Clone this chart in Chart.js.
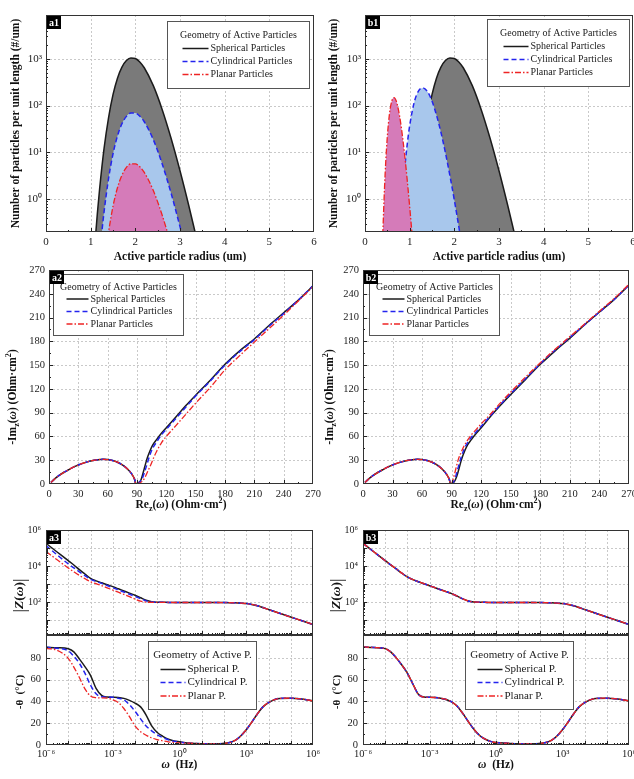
<!DOCTYPE html>
<html>
<head>
<meta charset="utf-8">
<script src="https://cdn.jsdelivr.net/npm/chart.js@4.4.1/dist/chart.umd.min.js"></script>
<style>
  html, body { margin: 0; padding: 0; background: #fff; }
  body { width: 634px; height: 779px; overflow: hidden; position: relative; }
  canvas { position: absolute; }
</style>
</head>
<body>
<canvas id="a1" width="340" height="262" style="left:0px;top:0px"></canvas>
<canvas id="b1" width="340" height="262" style="left:317px;top:0px"></canvas>
<canvas id="a2" width="340" height="250" style="left:0px;top:262px"></canvas>
<canvas id="b2" width="340" height="250" style="left:317px;top:262px"></canvas>
<canvas id="a3z" width="340" height="121" style="left:0px;top:515px"></canvas>
<canvas id="a3t" width="340" height="145" style="left:0px;top:634px"></canvas>
<canvas id="b3z" width="340" height="121" style="left:317px;top:515px"></canvas>
<canvas id="b3t" width="340" height="145" style="left:317px;top:634px"></canvas>
<script>
// ---- particle size distributions (a1 / b1) ----
const radiusSphA = [1.10, 1.15, 1.2, 1.3, 1.4, 1.5, 1.6, 1.7, 1.8, 1.9, 2.0, 2.1, 2.2, 2.4, 2.6, 2.8, 3.0, 3.2, 3.35];
const countSphA = [0.126, 0.50, 1.66, 12.2, 55, 171, 385, 662, 914, 1042, 1012, 857, 643, 270, 83, 20.1, 4.06, 0.71, 0.177];
const radiusCylA = [1.22, 1.25, 1.3, 1.4, 1.5, 1.6, 1.7, 1.8, 1.9, 2.0, 2.1, 2.2, 2.4, 2.6, 2.8, 3.0, 3.05];
const countCylA = [0.105, 0.20, 0.54, 2.75, 9.3, 22.4, 40.9, 58.9, 69.5, 69.2, 59.6, 45.2, 19.0, 5.75, 1.35, 0.26, 0.169];
const radiusPlaA = [1.38, 1.4, 1.5, 1.6, 1.7, 1.8, 1.9, 2.0, 2.1, 2.2, 2.4, 2.6, 2.74];
const countPlaA = [0.15, 0.20, 0.71, 1.76, 3.27, 4.79, 5.71, 5.72, 4.94, 3.74, 1.56, 0.46, 0.17];

const radiusSphB = [1.10, 1.15, 1.2, 1.3, 1.4, 1.5, 1.6, 1.7, 1.8, 1.9, 2.0, 2.1, 2.2, 2.4, 2.6, 2.8, 3.0, 3.2, 3.35];
const countSphB = [0.126, 0.50, 1.66, 12.2, 55, 171, 385, 662, 914, 1042, 1012, 857, 643, 270, 83, 20.1, 4.06, 0.71, 0.177];
const radiusCylB = [0.78, 0.8, 0.85, 0.9, 0.95, 1.0, 1.1, 1.2, 1.3, 1.4, 1.5, 1.6, 1.7, 1.8, 1.9, 2.0, 2.1, 2.14];
const countCylB = [0.17, 0.34, 1.62, 5.8, 16.3, 37.3, 116, 206, 239, 198, 125, 63, 26.9, 9.9, 3.24, 0.96, 0.26, 0.15];
const radiusPlaB = [0.39, 0.4, 0.45, 0.5, 0.55, 0.6, 0.65, 0.7, 0.75, 0.8, 0.85, 0.9, 0.95, 1.0, 1.05, 1.06];
const countPlaB = [0.098, 0.198, 3.38, 21.9, 69, 125, 148, 125, 80.5, 41.8, 18.2, 6.9, 2.30, 0.70, 0.195, 0.15];

// ---- Nyquist plots (a2 / b2) ----
const reArc = [2, 5, 10, 15, 20, 25, 30, 35, 40, 45, 50, 55, 60, 65, 70, 75, 80, 83, 85, 87, 88, 88.5];
const imArc = [2, 5.5, 10.5, 14.5, 18, 21.3, 24, 26.3, 28.2, 29.7, 30.7, 31.1, 30.8, 29.6, 27.5, 24.2, 19.3, 15.3, 12, 7.5, 4, 0.5];

const reSphA = [90, 92, 94, 96, 98, 100, 103, 106, 110, 115, 120, 130, 140, 150, 165, 180, 195, 210, 225, 240, 255, 270];
const imSphA = [0.5, 2, 5, 13, 22, 31, 41, 49, 56, 64, 71, 85, 99, 112, 131, 151, 168, 183, 200, 216, 232, 250];
const reCylA = [90, 92, 95, 98, 100, 103, 106, 110, 115, 120, 130, 140, 150, 165, 180, 195, 210, 225, 240, 255, 270];
const imCylA = [0.5, 1.5, 6, 16, 24, 36, 45, 53, 62, 69, 83, 97, 111, 130, 150, 167, 182, 199, 215, 232, 250];
const rePlaA = [90, 92, 95, 98, 101, 104, 107, 110, 115, 120, 130, 140, 150, 165, 180, 195, 210, 225, 240, 255, 270];
const imPlaA = [0.3, 1, 3, 8, 16, 24, 33, 41, 52, 60, 74, 88, 102, 122, 144, 162, 179, 196, 213, 231, 249];

const reSphB = [90, 92, 94, 96, 98, 100, 103, 106, 110, 115, 120, 130, 140, 150, 165, 180, 195, 210, 225, 240, 255, 270];
const imSphB = [0.5, 2, 6, 13, 22, 31, 41, 49, 56, 64, 71, 86, 100, 113, 132, 151, 168, 184, 201, 217, 233, 251];
const reCylB = [90, 92, 94, 96, 98, 100, 103, 106, 110, 115, 120, 130, 140, 150, 165, 180, 195, 210, 225, 240, 255, 270];
const imCylB = [0.5, 3, 9, 18, 27, 35, 45, 52, 59, 66, 73, 87, 101, 114, 133, 152, 169, 185, 201, 217, 233, 251];
const rePlaB = [90, 91, 93, 95, 97, 100, 103, 106, 110, 115, 120, 130, 140, 150, 165, 180, 195, 210, 225, 240, 255, 270];
const imPlaB = [0.5, 4, 13, 23, 32, 41, 49, 55, 62, 69, 76, 89, 103, 116, 135, 153, 170, 186, 202, 218, 234, 252];

// ---- Bode plots (a3 / b3) ----
const freqHz = [1e-6, 3.16e-6, 1e-5, 1.78e-5, 3.16e-5, 5.62e-5, 1e-4, 1.78e-4, 3.16e-4, 5.62e-4,
  1e-3, 1.78e-3, 3.16e-3, 5.62e-3, 1e-2, 1.78e-2, 3.16e-2, 5.62e-2, 0.1, 0.178, 0.316, 0.562,
  1, 3.16, 10, 31.6, 100, 178, 316, 562, 1e3, 1.78e3, 3.16e3, 5.62e3, 1e4, 3.16e4, 1e5, 3.16e5, 1e6];

const zSphA = [182000, 60300, 19950, 11500, 6310, 3630, 2090, 1510, 1175, 912, 724, 550, 417, 316, 240, 174, 126, 105, 98.9, 97.7, 96.6,
  95.5, 95.5, 95.5, 95.5, 95.5, 94.4, 93.3, 91.2, 88.1, 83.2, 74.1, 63.1, 50.1, 38.9, 24.0, 14.8, 9.33, 5.75];
const zCylA = [134900, 41700, 13200, 7940, 4790, 2950, 1860, 1410, 1100, 832, 631, 479, 363, 275, 209, 155, 117, 102, 97.7, 97.7, 96.6,
  95.5, 95.5, 95.5, 95.5, 95.5, 94.4, 93.3, 91.2, 88.1, 83.2, 74.1, 63.1, 50.1, 38.9, 24.0, 14.8, 9.33, 5.75];
const zPlaA = [63100, 22400, 7760, 4790, 3020, 2000, 1350, 1050, 813, 617, 468, 355, 269, 200, 148, 112, 100, 97.7, 97.7, 97.7, 96.6,
  95.5, 95.5, 95.5, 95.5, 95.5, 94.4, 93.3, 91.2, 88.1, 83.2, 74.1, 63.1, 50.1, 38.9, 24.0, 14.8, 9.33, 5.75];
const zAllB = [182000, 60300, 19950, 11750, 6920, 4070, 2510, 1780, 1350, 1050, 813, 631, 490, 380, 295, 214, 151, 115, 102, 98.9, 97.7,
  95.5, 95.5, 95.5, 95.5, 95.5, 94.4, 93.3, 91.2, 88.1, 83.2, 74.1, 63.1, 50.1, 38.9, 24.0, 14.8, 9.33, 5.75];

const phaseSphA = [89.7, 89.3, 88.3, 85.5, 79, 72, 64, 52, 45.5, 44, 43.8, 43.6, 42.8, 41, 38.5, 35, 27.5, 17.5, 11.5, 8.0, 5.3, 3.8, 3.0,
  1.6, 1.1, 1.0, 1.4, 2.3, 4.2, 8.3, 14, 21, 28.5, 35, 39, 42.8, 43, 42.2, 40.5];
const phaseCylA = [89.7, 88.8, 86.5, 81.5, 75, 66, 55, 47, 44.2, 44, 43.8, 43, 41.5, 37, 31, 24, 17.5, 13, 9.3, 6.8, 4.8, 3.4, 2.6,
  1.6, 1.1, 1.0, 1.4, 2.3, 4.2, 8.3, 14, 21, 28.5, 35, 39, 42.8, 43, 42.2, 40.5];
const phasePlaA = [88.7, 87, 79.6, 71.5, 62, 51.5, 45, 43.4, 43.2, 43, 41.5, 39, 33.5, 26, 17.5, 12.2, 9, 6.5, 5, 3.8, 2.9, 2.3, 1.9,
  1.6, 1.1, 1.0, 1.4, 2.3, 4.2, 8.3, 14, 21, 28.5, 35, 39, 42.8, 43, 42.2, 40.5];
const phaseAllB = [90, 89.5, 88.5, 85.5, 80, 73.5, 66, 56, 46.5, 44, 43.8, 43.6, 43, 41.8, 39.5, 35.5, 29, 21.5, 14.5, 9, 5.5, 3.3, 2.2,
  1.6, 1.1, 1.0, 1.4, 2.3, 4.2, 8.3, 14, 21, 28.5, 35, 39, 42.8, 43, 42.2, 40.5];

// ---- labels ----
const namesLong = ['Spherical Particles', 'Cylindrical Particles', 'Planar Particles'];
const namesShort = ['Spherical P.', 'Cylindrical P.', 'Planar P.'];
const radiusTicks = [0, 1, 2, 3, 4, 5, 6];
const countTicks = [1, 10, 100, 1000];
const nyquistTicks = [0, 30, 60, 90, 120, 150, 180, 210, 240, 270];
const freqTicks = [1e-6, 1e-5, 1e-4, 1e-3, 1e-2, 1e-1, 1, 10, 100, 1e3, 1e4, 1e5, 1e6];
const zTicks = [10, 100, 1e3, 1e4, 1e5, 1e6];
const phaseTicks = [0, 20, 40, 60, 80];

const SERIF = "'Liberation Serif', 'Times New Roman', serif";
const STYLE_SPH = { color: '#1b1b1b', width: 1.5, dash: [] };
const STYLE_CYL = { color: '#2424ee', width: 1.5, dash: [5, 3] };
const STYLE_PLA = { color: '#ee2424', width: 1.3, dash: [6, 2, 1.5, 2] };
const LINE_STYLES = [STYLE_SPH, STYLE_CYL, STYLE_PLA];

const SUP = { '-': '\u207B', '0': '\u2070', '1': '\u00B9', '2': '\u00B2', '3': '\u00B3', '4': '\u2074', '5': '\u2075', '6': '\u2076', '7': '\u2077', '8': '\u2078', '9': '\u2079' };
const pow10Label = (v) => '10' + String(Math.round(Math.log10(v))).split('').map(c => SUP[c]).join('');

// minor tick positions of a log axis (2..9 in every decade)
function logMinor(min, max) {
  const out = [];
  for (let e = Math.floor(Math.log10(min)); e <= Math.ceil(Math.log10(max)); e++) {
    for (let k = 2; k <= 9; k++) {
      const v = k * Math.pow(10, e);
      if (v > min && v < max) out.push(v);
    }
  }
  return out;
}

// ---- rich text (sub / superscripts in axis titles) ----
const TEXT_STYLES = {
  b: { weight: 'bold', italic: false, scale: 1, shift: 0 },
  bi: { weight: 'bold', italic: true, scale: 1, shift: 0 },
  sub: { weight: 'bold', italic: false, scale: 0.7, shift: 0.3 },
  sup: { weight: 'bold', italic: false, scale: 0.7, shift: -0.35 },
  bar: { weight: 'normal', italic: false, scale: 1.3, shift: 0 }
};
const fontOf = (st, size) => (st.italic ? 'italic ' : '') + st.weight + ' ' + (size * st.scale) + 'px ' + SERIF;

function drawRich(ctx, parts, x, y, size, vertical) {
  ctx.save();
  ctx.translate(x, y);
  if (vertical) ctx.rotate(-Math.PI / 2);
  let total = 0;
  parts.forEach(([t, k]) => { ctx.font = fontOf(TEXT_STYLES[k], size); total += ctx.measureText(t).width; });
  let cx = -total / 2;
  ctx.textBaseline = 'middle';
  ctx.textAlign = 'left';
  ctx.fillStyle = '#111';
  parts.forEach(([t, k]) => {
    const st = TEXT_STYLES[k];
    ctx.font = fontOf(st, size);
    ctx.fillText(t, cx, st.shift * size);
    cx += ctx.measureText(t).width;
  });
  ctx.restore();
}

const titleRe = [['Re', 'b'], ['z', 'sub'], ['(', 'b'], ['\u03C9', 'bi'], [') (Ohm\u00B7cm', 'b'], ['2', 'sup'], [')', 'b']];
const titleIm = [['-Im', 'b'], ['z', 'sub'], ['(', 'b'], ['\u03C9', 'bi'], [') (Ohm\u00B7cm', 'b'], ['2', 'sup'], [')', 'b']];
const titleZ = [['|', 'bar'], ['Z', 'bi'], ['(', 'b'], ['\u03C9', 'bi'], [')', 'b'], ['|', 'bar']];
const titlePhase = [['-\u03B8  (\u00B0C)', 'b']];
const titleFreq = [['\u03C9', 'bi'], ['  (Hz)', 'b']];
const titleRadius = [['Active particle radius (um)', 'b']];
const titleCount = [['Number of particles per unit length (#/um)', 'b']];

// ---- legend drawn inside the plot area ----
function drawLegend(ctx, a, lg) {
  const x0 = Math.round(a.left + lg.dx) + 0.5;
  const y0 = Math.round(a.top + lg.dy) + 0.5;
  ctx.save();
  ctx.fillStyle = '#fff';
  ctx.fillRect(x0, y0, lg.w, lg.h);
  ctx.strokeStyle = '#555';
  ctx.lineWidth = 1;
  ctx.setLineDash([]);
  ctx.strokeRect(x0, y0, lg.w, lg.h);
  ctx.fillStyle = '#222';
  ctx.font = lg.font + 'px ' + SERIF;
  ctx.textBaseline = 'middle';
  ctx.textAlign = 'center';
  ctx.fillText(lg.title, x0 + lg.w / 2, y0 + lg.titleY);
  ctx.textAlign = 'left';
  lg.names.forEach((name, i) => {
    const st = LINE_STYLES[i];
    const yy = y0 + lg.rowY[i];
    ctx.strokeStyle = st.color;
    ctx.lineWidth = st.width;
    ctx.setLineDash(st.dash);
    ctx.beginPath();
    ctx.moveTo(x0 + lg.sx, yy);
    ctx.lineTo(x0 + lg.sx + lg.sw, yy);
    ctx.stroke();
    ctx.fillText(name, x0 + lg.sx + lg.sw + 2, yy);
  });
  ctx.restore();
}

// grid, frame, inward ticks, legend, panel tag and axis titles
function panelPlugin(p) {
  return {
    id: 'panel',
    beforeDatasetsDraw(chart) {
      const { ctx, chartArea: a, scales: { x, y } } = chart;
      ctx.save();
      ctx.strokeStyle = '#c9c9c9';
      ctx.lineWidth = 1;
      ctx.setLineDash([2, 2]);
      ctx.beginPath();
      p.gridX.forEach(v => { const px = Math.round(x.getPixelForValue(v)) + 0.5; ctx.moveTo(px, a.top); ctx.lineTo(px, a.bottom); });
      p.gridY.forEach(v => { const py = Math.round(y.getPixelForValue(v)) + 0.5; ctx.moveTo(a.left, py); ctx.lineTo(a.right, py); });
      ctx.stroke();
      ctx.restore();
    },
    afterDatasetsDraw(chart) {
      const { ctx, chartArea: a, scales: { x, y } } = chart;
      ctx.save();
      ctx.strokeStyle = '#222';
      ctx.lineWidth = 1;
      ctx.setLineDash([]);
      ctx.beginPath();
      const tickX = (vals, len) => vals.forEach(v => { const px = Math.round(x.getPixelForValue(v)) + 0.5; ctx.moveTo(px, a.bottom); ctx.lineTo(px, a.bottom - len); });
      const tickY = (vals, len) => vals.forEach(v => { const py = Math.round(y.getPixelForValue(v)) + 0.5; ctx.moveTo(a.left, py); ctx.lineTo(a.left + len, py); });
      tickX(p.majorX, 4); tickX(p.minorX, 2);
      tickY(p.majorY, 4); tickY(p.minorY, 2);
      ctx.stroke();
      ctx.strokeStyle = '#333';
      ctx.strokeRect(a.left + 0.5, a.top + 0.5, a.right - a.left - 1, a.bottom - a.top - 1);
      ctx.restore();
      if (p.legend) drawLegend(ctx, a, p.legend);
      if (p.tag) {
        ctx.save();
        ctx.fillStyle = '#000';
        ctx.fillRect(a.left + 1, a.top + 1, 14, 13);
        ctx.fillStyle = '#fff';
        ctx.font = 'bold 10px ' + SERIF;
        ctx.textAlign = 'center';
        ctx.textBaseline = 'middle';
        ctx.fillText(p.tag, a.left + 8, a.top + 8);
        ctx.restore();
      }
    },
    afterDraw(chart) {
      const { ctx, chartArea: a } = chart;
      if (p.xTitle) drawRich(ctx, p.xTitle, (a.left + a.right) / 2, a.bottom + p.xTitleDy, 11.5, false);
      if (p.yTitle) drawRich(ctx, p.yTitle, a.left + p.yTitleDx, (a.top + a.bottom) / 2 + (p.yTitleShift || 0), p.yTitleSize || 11.5, true);
    }
  };
}

function axis(o) {
  return {
    type: o.type,
    min: o.min,
    max: o.max,
    grid: { display: false, drawTicks: false },
    border: { display: false },
    ticks: {
      display: o.labels !== false,
      autoSkip: false,
      maxRotation: 0,
      padding: o.pad,
      color: '#222',
      font: { family: SERIF, size: o.font || 11 },
      callback: o.label
    },
    afterBuildTicks: (s) => { s.ticks = o.ticks.map(v => ({ value: v })); },
    afterFit: (s) => {
      if (s.isHorizontal()) s.height = o.size; else s.width = o.size;
      s.paddingLeft = 0; s.paddingRight = 0; s.paddingTop = 0; s.paddingBottom = 0;
    }
  };
}

function series(xs, ys, style, order, fillColor) {
  return {
    data: xs.map((x, i) => ({ x: x, y: ys[i] })),
    borderColor: style.color,
    borderWidth: style.width,
    borderDash: style.dash,
    pointRadius: 0,
    cubicInterpolationMode: 'monotone',
    fill: fillColor ? 'start' : false,
    backgroundColor: fillColor || 'transparent',
    order: order
  };
}

function makePanel(id, datasets, scaleX, scaleY, padding, p) {
  return new Chart(document.getElementById(id).getContext('2d'), {
    type: 'line',
    data: { datasets: datasets },
    options: {
      responsive: false,
      animation: false,
      layout: { padding: padding },
      plugins: { legend: { display: false }, tooltip: { enabled: false } },
      scales: { x: axis(scaleX), y: axis(scaleY) }
    },
    plugins: [panelPlugin(p)]
  });
}

// ---- row 1: distributions ----
const distX = (size) => ({ type: 'linear', min: 0, max: 6, ticks: radiusTicks, pad: 4, size: size, label: v => String(v) });
const distY = (size) => ({ type: 'logarithmic', min: 0.2, max: 8600, ticks: countTicks, pad: 4, size: size, label: v => pow10Label(v) });
const distDeco = {
  gridX: [1, 2, 3, 4, 5], gridY: countTicks,
  majorX: [1, 2, 3, 4, 5], minorX: [0.5, 1.5, 2.5, 3.5, 4.5, 5.5],
  majorY: countTicks, minorY: logMinor(0.2, 8600),
  xTitle: titleRadius, xTitleDy: 25, yTitle: titleCount
};
const fillSph = '#7a7a7a', fillCyl = '#a8c7ec', fillPla = '#d57bb9';

makePanel('a1', [
  series(radiusSphA, countSphA, STYLE_SPH, 3, fillSph),
  series(radiusCylA, countCylA, STYLE_CYL, 2, fillCyl),
  series(radiusPlaA, countPlaA, STYLE_PLA, 1, fillPla)
], distX(30), distY(46), { left: 0, top: 15, right: 26, bottom: 0 }, Object.assign({}, distDeco, {
  tag: 'a1', yTitleDx: -30,
  legend: { dx: 121, dy: 6, w: 142, h: 67, titleY: 14, rowY: [27, 40, 53], sx: 15, sw: 26, font: 10, title: 'Geometry of Active Particles', names: namesLong }
}));

makePanel('b1', [
  series(radiusSphB, countSphB, STYLE_SPH, 3, fillSph),
  series(radiusCylB, countCylB, STYLE_CYL, 2, fillCyl),
  series(radiusPlaB, countPlaB, STYLE_PLA, 1, fillPla)
], distX(30), distY(48), { left: 0, top: 15, right: 24, bottom: 0 }, Object.assign({}, distDeco, {
  tag: 'b1', yTitleDx: -31,
  legend: { dx: 122, dy: 4, w: 142, h: 67, titleY: 14, rowY: [27, 40, 53], sx: 16, sw: 25, font: 10, title: 'Geometry of Active Particles', names: namesLong }
}));

// ---- row 2: Nyquist ----
const nyqX = { type: 'linear', min: 0, max: 270, ticks: nyquistTicks, pad: 4, size: 28, font: 10.5, label: v => String(v) };
const nyqY = (size) => ({ type: 'linear', min: 0, max: 270, ticks: nyquistTicks, pad: 4, size: size, font: 10.5, label: v => String(v) });
const nyqInner = [30, 60, 90, 120, 150, 180, 210, 240];
const nyqMinor = [15, 45, 75, 105, 135, 165, 195, 225, 255];
const nyqDeco = {
  gridX: nyqInner, gridY: nyqInner, majorX: nyqInner, minorX: nyqMinor, majorY: nyqInner, minorY: nyqMinor,
  xTitle: titleRe, xTitleDy: 21, yTitle: titleIm, yTitleShift: 20
};
const nyqLegend = (dx) => ({ dx: dx, dy: 4, w: 130, h: 61, titleY: 12.5, rowY: [24.5, 37, 49.5], sx: 13, sw: 22, font: 10, title: 'Geometry of Active Particles', names: namesLong });

makePanel('a2', [
  series(reArc.concat(reSphA), imArc.concat(imSphA), STYLE_SPH, 3),
  series(reArc.concat(reCylA), imArc.concat(imCylA), STYLE_CYL, 2),
  series(reArc.concat(rePlaA), imArc.concat(imPlaA), STYLE_PLA, 1)
], nyqX, nyqY(49), { left: 0, top: 8, right: 27, bottom: 0 }, Object.assign({}, nyqDeco, {
  tag: 'a2', yTitleDx: -36, legend: nyqLegend(4)
}));

makePanel('b2', [
  series(reArc.concat(reSphB), imArc.concat(imSphB), STYLE_SPH, 3),
  series(reArc.concat(reCylB), imArc.concat(imCylB), STYLE_CYL, 2),
  series(reArc.concat(rePlaB), imArc.concat(imPlaB), STYLE_PLA, 1)
], nyqX, nyqY(46), { left: 0, top: 8, right: 28, bottom: 0 }, Object.assign({}, nyqDeco, {
  tag: 'b2', yTitleDx: -33, legend: nyqLegend(6)
}));

// ---- row 3: Bode (|Z| on top, phase below) ----
const freqX = (size, labels) => ({
  type: 'logarithmic', min: 1e-6, max: 1e6, ticks: freqTicks, pad: 3, size: size, labels: labels, font: 10.5,
  label: v => (Math.round(Math.log10(v)) % 3 === 0 ? pow10Label(v) : '')
});
const zY = { type: 'logarithmic', min: 1.5, max: 1e6, ticks: zTicks, pad: 5, size: 46, font: 10, label: v => (Math.round(Math.log10(v)) % 2 === 0 ? pow10Label(v) : '') };
const phaseY = { type: 'linear', min: 0, max: 101, ticks: phaseTicks, pad: 5, size: 46, font: 10.5, label: v => String(v) };
const freqInner = freqTicks.slice(1, -1);
const zDeco = {
  gridX: freqInner, gridY: zTicks.slice(0, -1), majorX: freqInner, minorX: logMinor(1e-6, 1e6),
  majorY: zTicks.slice(0, -1), minorY: logMinor(1.5, 1e6),
  yTitle: titleZ, yTitleDx: -26, yTitleShift: 13, yTitleSize: 13.5
};
const phaseDeco = {
  gridX: freqInner, gridY: [20, 40, 60, 80], majorX: freqInner, minorX: logMinor(1e-6, 1e6),
  majorY: [20, 40, 60, 80], minorY: [10, 30, 50, 70, 90],
  xTitle: titleFreq, xTitleDy: 20, yTitle: titlePhase, yTitleDx: -26, yTitleShift: 2, yTitleSize: 11,
  legend: { dx: 102, dy: 6, w: 108, h: 68, titleY: 14, rowY: [28, 41, 54.5], sx: 12, sw: 25, font: 11, title: 'Geometry of Active P.', names: namesShort }
};

makePanel('a3z', [
  series(freqHz, zSphA, STYLE_SPH, 3),
  series(freqHz, zCylA, STYLE_CYL, 2),
  series(freqHz, zPlaA, STYLE_PLA, 1)
], freqX(1, false), zY, { left: 0, top: 15, right: 27, bottom: 0 }, Object.assign({}, zDeco, { tag: 'a3' }));

makePanel('a3t', [
  series(freqHz, phaseSphA, STYLE_SPH, 3),
  series(freqHz, phaseCylA, STYLE_CYL, 2),
  series(freqHz, phasePlaA, STYLE_PLA, 1)
], freqX(34, true), phaseY, { left: 0, top: 1, right: 27, bottom: 0 }, phaseDeco);

makePanel('b3z', [
  series(freqHz, zAllB, STYLE_SPH, 3),
  series(freqHz, zAllB, STYLE_CYL, 2),
  series(freqHz, zAllB, STYLE_PLA, 1)
], freqX(1, false), zY, { left: 0, top: 15, right: 28, bottom: 0 }, Object.assign({}, zDeco, { tag: 'b3' }));

makePanel('b3t', [
  series(freqHz, phaseAllB, STYLE_SPH, 3),
  series(freqHz, phaseAllB, STYLE_CYL, 2),
  series(freqHz, phaseAllB, STYLE_PLA, 1)
], freqX(34, true), phaseY, { left: 0, top: 1, right: 28, bottom: 0 }, phaseDeco);
</script>
</body>
</html>
